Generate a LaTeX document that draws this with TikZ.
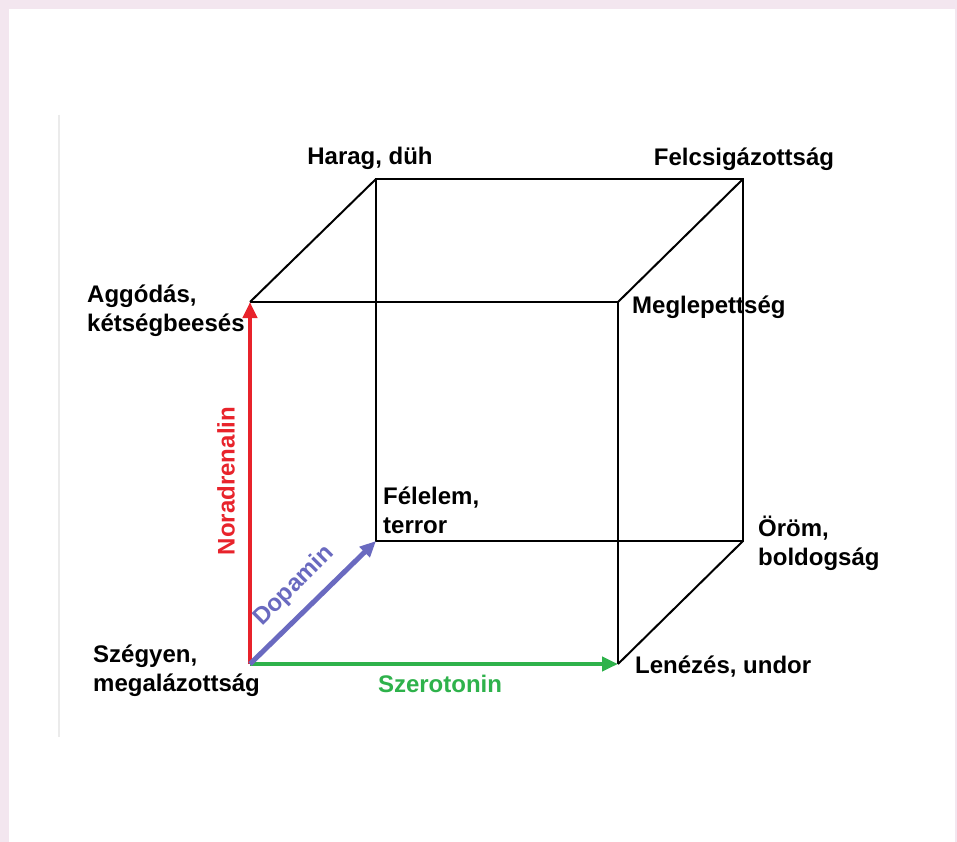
\documentclass[tikz,border=0pt]{standalone}
\usepackage{fontspec}
\setmainfont{Liberation Sans}
\usetikzlibrary{arrows.meta}
\definecolor{pinkbg}{HTML}{F3E6EF}
\definecolor{nred}{HTML}{E8232B}
\definecolor{sgreen}{HTML}{2EB24B}
\definecolor{dblue}{HTML}{6A6AC0}
\begin{document}
\begin{tikzpicture}[x=1pt,y=-1pt,
  lbl/.style={font=\fontsize{24}{29}\selectfont\bfseries, inner sep=0pt, align=left},
  cubeedge/.style={line width=2pt, black},
  axisarrow/.style={line width=4pt, -{Triangle[length=16pt,width=14pt]}}]
\fill[pinkbg] (0,0) rectangle (957,842);
\fill[white] (9,9) rectangle (955,842);
\useasboundingbox (0,0) rectangle (957,842);
\draw[line width=1.5pt, black!8] (59,115) -- (59,737);
\coordinate (A) at (250,664);
\coordinate (B) at (618,664);
\coordinate (C) at (250,302);
\coordinate (D) at (618,302);
\coordinate (E) at (376,541);
\coordinate (F) at (743,541);
\coordinate (G) at (376,179);
\coordinate (H) at (743,179);
\draw[cubeedge] (E) -- (F) -- (H) -- (G) -- cycle;
\draw[cubeedge] (C) -- (G);
\draw[cubeedge] (D) -- (H);
\draw[cubeedge] (B) -- (F);
\draw[cubeedge] (C) -- (D) -- (B);
\draw[axisarrow, nred] (A) -- (C);
\draw[axisarrow, sgreen] (A) -- (B);
\draw[axisarrow, dblue, line width=5pt] (A) -- (E);
\node[lbl, anchor=base] (harag) at (370,165) {Harag, düh};
\node[lbl, anchor=base] (felcs) at (744,166) {Felcsigázottság};
\node[lbl, anchor=base west] (aggod) at (87,331) {Aggódás,\\kétségbeesés};
\node[lbl, anchor=base west] (meglep) at (632,313) {Meglepettség};
\node[lbl, anchor=base west] (felel) at (383,533) {Félelem,\\terror};
\node[lbl, anchor=base west] (orom) at (758,565) {Öröm,\\boldogság};
\node[lbl, anchor=base west] (szegy) at (93,691) {Szégyen,\\megalázottság};
\node[lbl, anchor=base west] (lenez) at (635,673) {Lenézés, undor};
\node[lbl, anchor=base, text=sgreen] (szero) at (440,692) {Szerotonin};
\node[lbl, rotate=90, text=nred] (norad) at (226,481) {Noradrenalin};
\node[lbl, rotate=45, text=dblue] (dopa) at (294,586) {Dopamin};
\end{tikzpicture}
\end{document}
